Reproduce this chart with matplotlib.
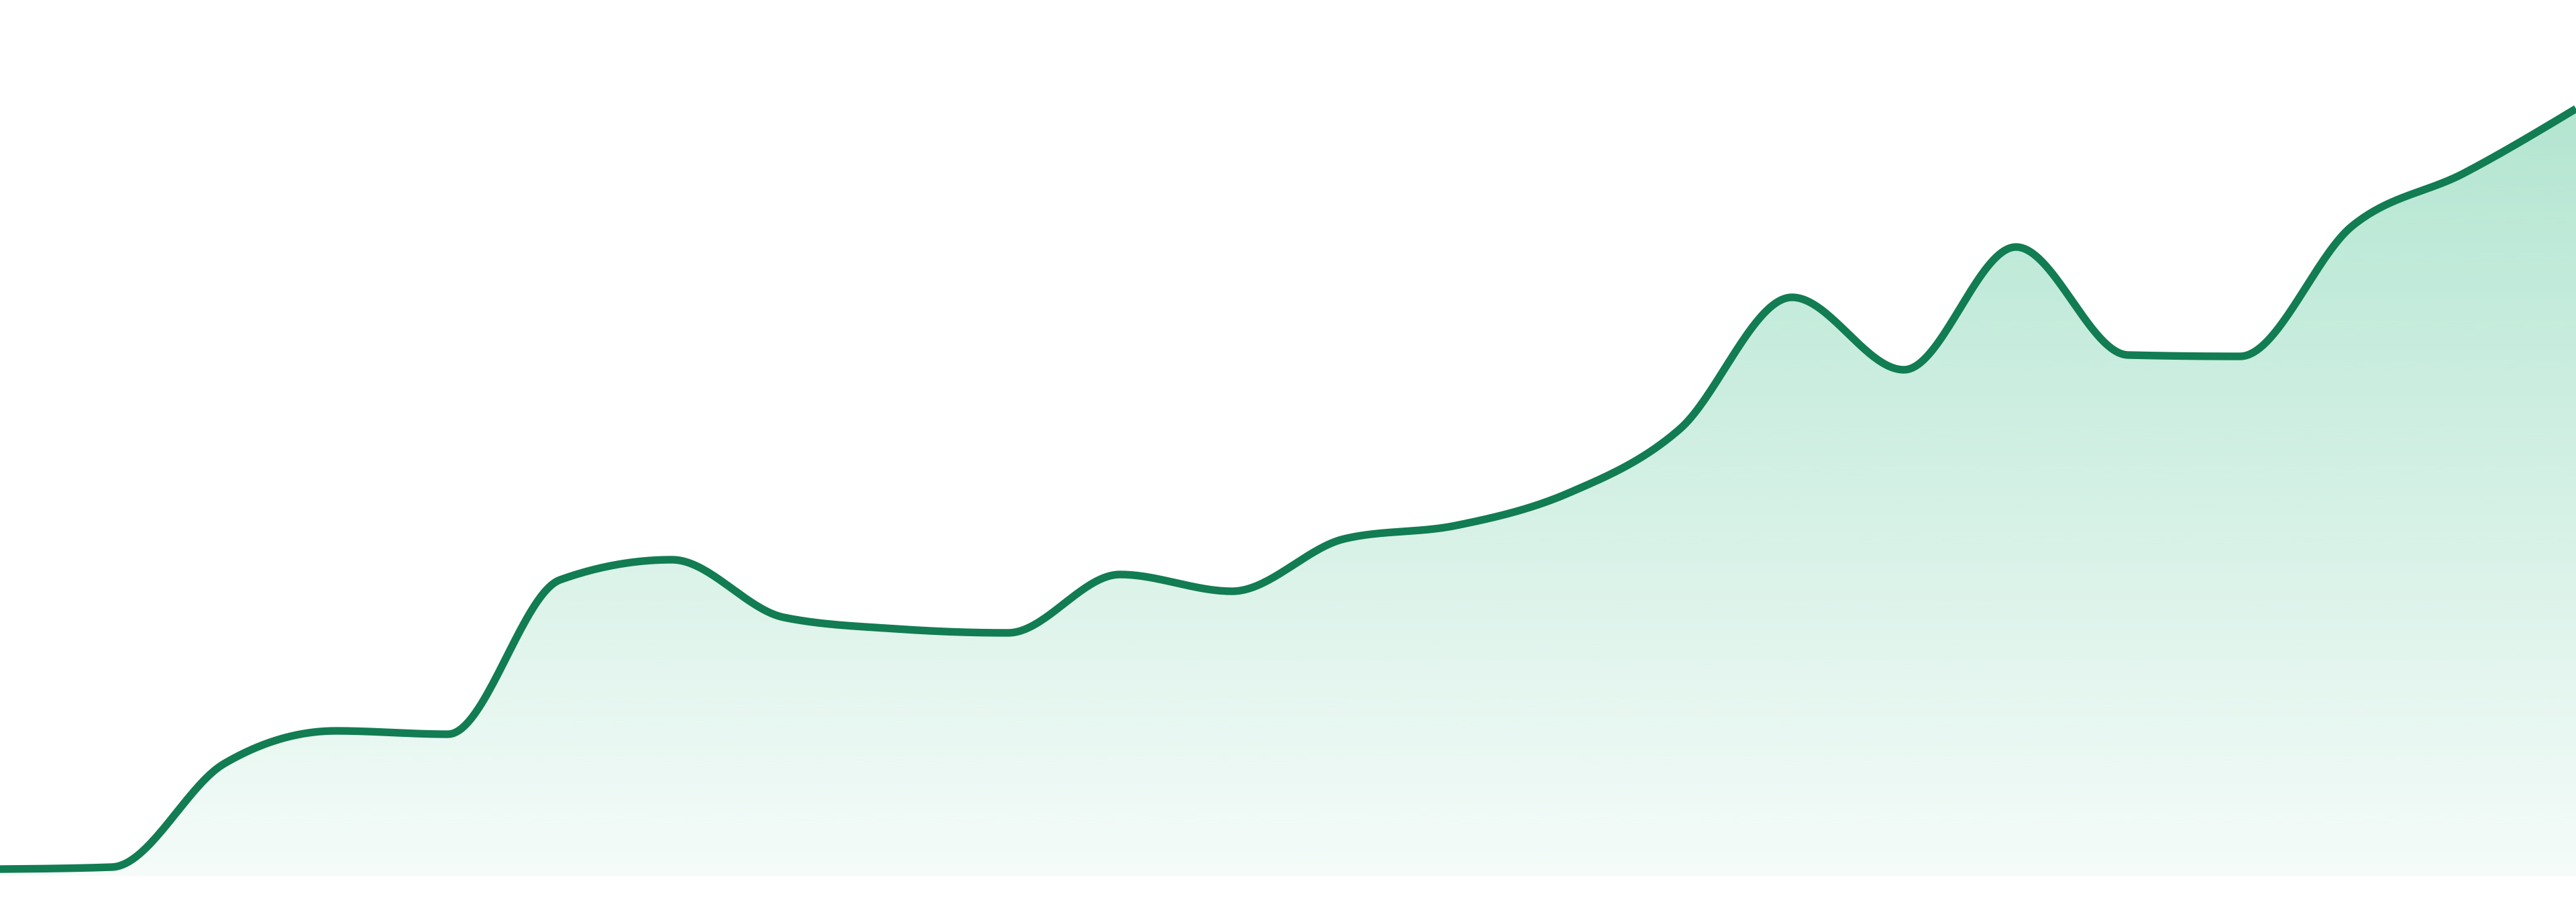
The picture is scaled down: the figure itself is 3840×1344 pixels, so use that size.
import numpy as np
import matplotlib
matplotlib.use("Agg")
import matplotlib.pyplot as plt

# series (24 evenly spaced samples)
periods = np.arange(24)
values = [1.0, 1.3, 16.7, 21.6, 21.1, 44.1, 47.1, 38.5, 36.8, 36.2,
          44.9, 42.4, 50.2, 52.2, 57.0, 66.6, 86.2, 75.4, 93.7, 77.6,
          77.4, 96.8, 104.7, 114.3]

line_color = "#127c52"
fill_rgb = (45 / 255, 185 / 255, 128 / 255)


def monotone_x(x, y, n=40):
    """Monotone cubic interpolation (same rule as d3.curveMonotoneX)."""
    x = np.asarray(x, float)
    y = np.asarray(y, float)
    h = np.diff(x)
    s = np.diff(y) / h
    t = np.zeros_like(y)
    for i in range(1, len(y) - 1):
        p = (s[i - 1] * h[i] + s[i] * h[i - 1]) / (h[i - 1] + h[i])
        t[i] = (np.sign(s[i - 1]) + np.sign(s[i])) * min(abs(s[i - 1]), abs(s[i]), 0.5 * abs(p))
    t[0] = (3 * s[0] - t[1]) / 2
    t[-1] = (3 * s[-1] - t[-2]) / 2
    xs, ys = [], []
    for i in range(len(h)):
        u = np.linspace(0, 1, n, endpoint=(i == len(h) - 1))
        h00 = 2 * u**3 - 3 * u**2 + 1
        h10 = u**3 - 2 * u**2 + u
        h01 = -2 * u**3 + 3 * u**2
        h11 = u**3 - u**2
        xs.append(x[i] + u * h[i])
        ys.append(h00 * y[i] + h10 * h[i] * t[i] + h01 * y[i + 1] + h11 * h[i] * t[i + 1])
    return np.concatenate(xs), np.concatenate(ys)


fig = plt.figure(figsize=(38.4, 13.44), dpi=100)
ax = fig.add_axes([0, 0, 1, 1])
ax.set_xlim(0, 23)
ax.set_ylim(-3.9, 130.5)
ax.axis("off")

sx, sy = monotone_x(periods, values)

# vertical gradient clipped to the area under the curve
top = max(values)
grad = np.linspace(1, 0, 400)[:, None]
img = np.zeros((400, 1, 4))
img[..., 0], img[..., 1], img[..., 2] = fill_rgb
img[..., 3] = 0.05 + 0.31 * grad
im = ax.imshow(img, extent=(0, 23, 0, top), aspect="auto", origin="upper",
               interpolation="bilinear", zorder=1)
poly = ax.fill_between(sx, sy, 0, color="none", lw=0)
clip = poly.get_paths()[0]
im.set_clip_path(clip, transform=ax.transData)

ax.plot(sx, sy, color=line_color, lw=8.2, solid_capstyle="butt",
        solid_joinstyle="round", zorder=3)

fig.savefig("out.png", dpi=100, facecolor="white")
